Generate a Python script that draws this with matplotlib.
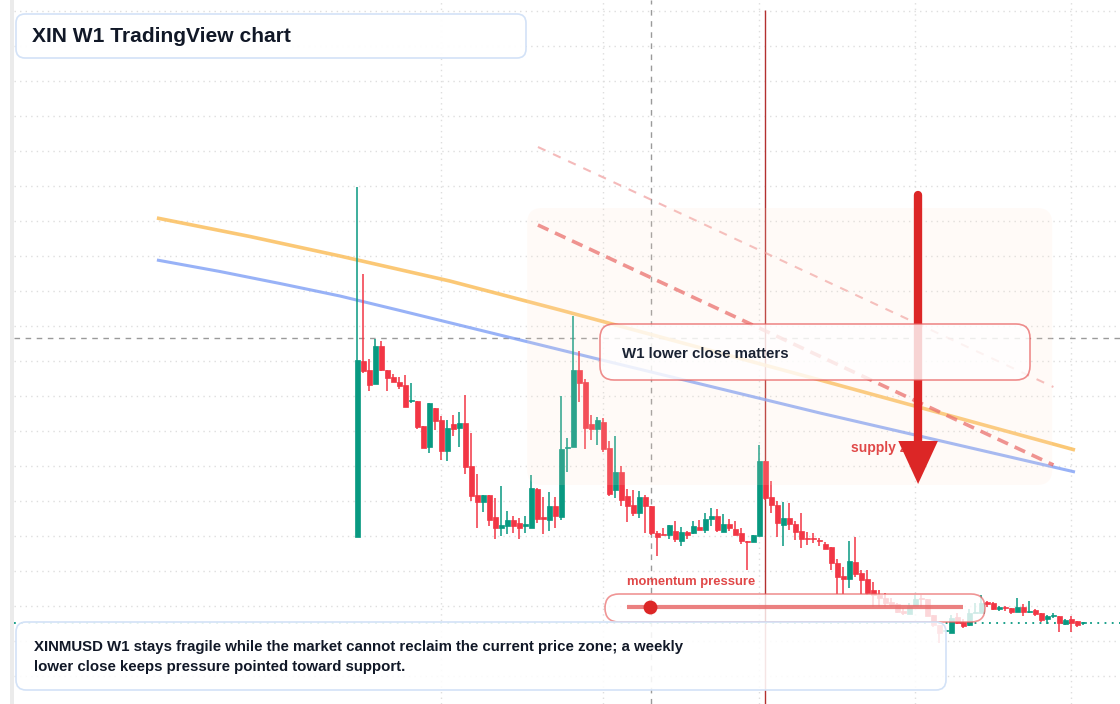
import matplotlib
matplotlib.use("Agg")
import matplotlib.pyplot as plt
from matplotlib.patches import FancyBboxPatch, Rectangle
from matplotlib.colors import to_rgba

plt.rcParams['font.family'] = ['Liberation Sans', 'DejaVu Sans']

# weekly candles, index 0..121
opens = [16.7, 34.3, 33.4, 32.0, 35.8, 33.4, 32.7, 32.2, 31.9, 30.3,
         30.3, 27.8, 25.7, 29.6, 28.4, 25.3, 28.0, 27.6, 28.1, 23.8,
         20.9, 20.2, 20.9, 18.7, 17.6, 17.8, 18.4, 18.1, 17.85, 17.6,
         21.5, 18.65, 18.4, 19.8, 18.7, 25.6, 25.7, 33.4, 32.2, 28.0,
         27.5, 28.2, 25.6, 21.4, 23.2, 20.8, 19.9, 19.1, 20.7, 19.8,
         17.1, 17.0, 16.9, 17.3, 16.3, 17.2, 17.1, 17.7, 17.4, 18.5,
         18.8, 17.2, 18.0, 17.5, 17.1, 16.3, 16.2, 16.8, 24.3, 20.7,
         19.9, 17.9, 18.6, 18.0, 17.3, 16.6, 16.55, 16.4, 16.0, 15.7,
         14.1, 12.8, 12.5, 14.2, 13.1, 12.5, 11.4, 10.9, 10.6, 10.2,
         10.0, 9.3, 9.0, 9.8, 10.6, 10.5, 8.9, 7.9, 7.3, 7.1,
         8.7, 8.2, 7.9, 9.1, 9.1, 10.1, 10.1, 9.55, 9.65, 9.6,
         9.2, 9.7, 9.2, 9.4, 9.1, 8.5, 8.8, 8.8, 8.0, 8.5,
         8.3, 8.1]
highs = [51.7, 43.0, 34.5, 36.5, 36.3, 33.4, 33.0, 32.7, 32.9, 32.1,
         30.3, 27.8, 30.1, 29.6, 28.8, 28.4, 28.9, 29.2, 30.9, 27.1,
         23.0, 20.9, 20.9, 20.6, 21.8, 19.3, 18.8, 18.6, 18.8, 22.9,
         21.6, 20.7, 21.2, 20.7, 30.8, 26.6, 38.8, 35.3, 32.5, 28.9,
         28.7, 28.6, 26.3, 26.8, 23.8, 21.5, 21.4, 21.3, 20.9, 19.8,
         17.3, 17.6, 17.9, 18.3, 17.7, 17.3, 18.3, 18.4, 19.1, 19.6,
         19.5, 19.0, 18.5, 18.3, 17.6, 16.3, 16.9, 25.9, 24.3, 22.3,
         20.3, 20.2, 20.1, 18.3, 19.1, 17.2, 17.1, 16.6, 16.2, 15.7,
         14.5, 13.7, 16.3, 16.7, 13.4, 13.4, 12.2, 11.4, 11.1, 10.6,
         10.1, 9.6, 10.1, 10.9, 10.9, 10.5, 8.9, 7.9, 7.35, 8.9,
         9.1, 8.5, 9.5, 10.1, 10.9, 10.3, 10.2, 9.8, 9.8, 9.6,
         10.6, 10.0, 10.3, 9.5, 9.1, 8.9, 9.1, 8.8, 8.5, 8.8,
         8.3, 8.2]
lows = [16.7, 33.1, 31.3, 32.0, 33.3, 31.3, 32.2, 31.5, 29.7, 30.1,
        27.5, 25.6, 25.1, 27.4, 24.4, 24.3, 26.8, 25.7, 23.0, 20.3,
        17.6, 19.2, 17.8, 16.5, 16.8, 17.0, 17.1, 16.5, 17.1, 17.6,
        18.1, 17.0, 17.3, 17.6, 18.4, 23.2, 25.7, 30.2, 25.5, 26.4,
        25.9, 25.2, 20.8, 20.6, 19.8, 18.2, 18.8, 18.6, 17.1, 16.9,
        14.8, 16.9, 16.5, 16.2, 15.8, 16.5, 17.0, 17.4, 17.1, 17.8,
        17.2, 17.2, 17.3, 16.9, 16.0, 13.4, 16.2, 16.8, 20.4, 19.1,
        16.7, 15.8, 17.4, 16.4, 15.6, 15.9, 16.1, 15.8, 15.5, 13.4,
        11.0, 11.0, 11.6, 12.7, 11.0, 10.9, 9.7, 9.7, 9.7, 9.7,
        9.1, 8.9, 9.0, 9.8, 9.7, 8.8, 7.7, 6.1, 7.3, 7.1,
        8.0, 7.6, 7.8, 9.1, 9.1, 9.7, 9.4, 9.3, 9.3, 9.0,
        9.2, 8.8, 9.1, 8.8, 8.2, 8.0, 8.6, 7.2, 7.9, 7.2,
        7.7, 7.9]
closes = [34.4, 33.3, 31.9, 35.8, 33.4, 32.6, 32.2, 31.8, 29.7, 30.4,
          27.7, 25.6, 30.1, 28.3, 25.3, 27.6, 27.5, 28.1, 23.7, 20.8,
          20.2, 20.9, 18.4, 17.6, 17.9, 18.4, 17.8, 17.6, 17.95, 21.6,
          18.5, 18.55, 19.8, 18.8, 25.5, 25.7, 33.4, 32.1, 27.6, 27.5,
          28.4, 25.5, 21.0, 23.2, 20.4, 19.8, 19.1, 20.7, 19.8, 17.1,
          16.7, 16.9, 17.9, 16.5, 17.2, 16.9, 17.8, 17.4, 18.5, 18.8,
          17.4, 18.0, 17.6, 16.9, 16.3, 16.2, 16.9, 24.3, 20.6, 19.9,
          18.1, 18.6, 18.0, 17.2, 16.5, 16.5, 16.5, 16.3, 15.5, 14.1,
          12.7, 12.5, 14.3, 13.0, 12.4, 11.1, 10.9, 10.6, 10.1, 9.9,
          9.2, 9.1, 9.8, 10.5, 10.5, 8.8, 7.9, 7.1, 7.35, 8.6,
          8.1, 7.8, 9.1, 9.2, 10.1, 10.05, 9.5, 9.6, 9.6, 9.2,
          9.7, 9.2, 9.3, 9.0, 8.4, 8.8, 8.85, 8.1, 8.4, 8.1,
          7.9, 8.12]

# moving averages (sampled)
ma_slow_idx = [-33.4, -17.9, -2.9, 15.4, 33.8, 77.1, 119.6]
ma_slow = [48.6, 46.75, 44.8, 42.3, 39.4, 32.4, 25.4]
ma_fast_idx = [-33.4, -22.9, -12.9, -2.9, 7.1, 40.4, 77.1, 119.6]
ma_fast = [44.4, 43.25, 42.05, 40.8, 39.35, 34.45, 29.1, 23.2]

# channel lines
chan_idx = [30.1, 116.0]
chan_low = [47.9, 23.9]
chan_high = [55.7, 31.7]

zone_idx = (28.3, 115.8)
zone_px = (21.9, 49.6)
arrow_idx = 93.45
arrow_top, arrow_tip = 50.9, 22.0
last_price = 8.12
cross_idx, cross_price = 49, 36.6
event_idx = 68
grid_idx = [14, 41, 67, 93, 119]
grid_prices = [2.8 + 3.5 * k for k in range(20)]

UP = '#089981'
DN = '#f23645'

fig = plt.figure(figsize=(11.2, 7.04), dpi=100)
ax = fig.add_axes([0, 0, 1, 1])
x0, x1 = -59.55, 127.1
ax.set_xlim(x0, x1)
ax.set_ylim(0, 70.4)
ax.axis('off')
xl = x0 + 14 / 6.0

ax.hlines(grid_prices, xl, x1, colors='#dedede', lw=1, linestyles=(0, (1, 3)), zorder=0)
ax.vlines(grid_idx, 0, 70.4, colors='#dedede', lw=1, linestyles=(0, (1, 3)), zorder=0)

ax.hlines(cross_price, xl, x1, colors='#9a9a9a', lw=1, linestyles=(0, (4, 4)), zorder=1)
ax.vlines(cross_idx, 0, 70.4, colors='#9a9a9a', lw=1, linestyles=(0, (4, 4)), zorder=1)
ax.vlines(event_idx, 0, 69.4, colors='#b3302f', lw=1, zorder=1)
ax.hlines(last_price, xl, x1, colors=UP, lw=1.3, linestyles=(0, (1, 3)), zorder=1)

ax.plot(ma_slow_idx, ma_slow, color='#fbbf5e', lw=2.6, alpha=0.85, zorder=2, solid_capstyle='butt')
ax.plot(ma_fast_idx, ma_fast, color='#7f9ff5', lw=2.2, alpha=0.8, zorder=2, solid_capstyle='butt')
ax.plot(chan_idx, chan_low, color='#e85d5d', lw=2.6, alpha=0.75, ls=(0, (3.2, 2.0)), zorder=2)
ax.plot(chan_idx, chan_high, color='#ee8c8c', lw=1.5, alpha=0.6, ls=(0, (4, 4)), zorder=2)

idx = list(range(len(opens)))
cols = [UP if c >= o else DN for o, c in zip(opens, closes)]
bottoms = [min(o, c) for o, c in zip(opens, closes)]
heights = [max(abs(c - o), 0.12) for o, c in zip(opens, closes)]
ax.vlines(idx, lows, highs, colors=cols, lw=1.1, zorder=3)
ax.bar(idx, heights, bottom=bottoms, width=0.8, color=cols, edgecolor=cols,
       linewidth=0.5, zorder=3)

zone = FancyBboxPatch((zone_idx[0], zone_px[0]), zone_idx[1] - zone_idx[0], zone_px[1] - zone_px[0],
                      boxstyle='round,pad=0,rounding_size=2.5', mutation_aspect=0.6,
                      fc='#ffe2cc', ec='none', alpha=0.15, zorder=5)
ax.add_patch(zone)

ax.text(82.3, 25.6, 'supply zone', color='#e04848', fontsize=10, fontweight='bold',
        va='center', ha='left', zorder=6)
head_w, head_l = 3.3, 4.3
ax.plot([arrow_idx, arrow_idx], [arrow_top, arrow_tip + head_l], color='#dc2626', lw=6,
        solid_capstyle='round', zorder=7)
ax.fill([arrow_idx - head_w, arrow_idx + head_w, arrow_idx],
        [arrow_tip + head_l, arrow_tip + head_l, arrow_tip], color='#dc2626', lw=0, zorder=7)

# overlay in pixel units for the panels
ov = fig.add_axes([0, 0, 1, 1])
ov.set_zorder(10)
ov.set_xlim(0, 1120)
ov.set_ylim(704, 0)
ov.axis('off')
ov.patch.set_alpha(0)

ov.add_patch(Rectangle((10, 0), 4, 704, color='#ebebeb', lw=0))


def panel(xa, ya, xb, yb, r, ec, fa, lw=1.2):
    p = FancyBboxPatch((xa, ya), xb - xa, yb - ya, boxstyle='round,pad=0,rounding_size=%g' % r,
                       fc=to_rgba('white', fa), ec=ec, lw=lw)
    ov.add_patch(p)


panel(16, 14, 526, 58, 9, '#d3e2f7', 0.97)
ov.text(32, 36.5, 'XIN W1 TradingView chart', fontsize=15.1, fontweight='bold', color='#111827',
        va='center', ha='left')

panel(600, 324, 1030, 380, 14, to_rgba('#e85d5d', 0.7), 0.8)
ov.text(622, 354, 'W1 lower close matters', fontsize=10.8, fontweight='bold', color='#1a2233',
        va='center', ha='left')

ov.text(627, 582.5, 'momentum pressure', fontsize=9.4, fontweight='bold', color='#e04848',
        va='center', ha='left')
panel(605, 594, 985, 622, 14, to_rgba('#e85d5d', 0.65), 0.8)
ov.plot([627, 963], [607, 607], color='#e86a6a', lw=3, alpha=0.85, solid_capstyle='butt')
ov.scatter([650], [607], s=100, color='#dc2626', zorder=3, linewidths=0)

panel(16, 622, 946, 690, 10, '#d3e2f7', 0.88)
ov.text(34, 647, 'XINMUSD W1 stays fragile while the market cannot reclaim the current price zone; a weekly',
        fontsize=10.85, fontweight='bold', color='#111827', va='center', ha='left')
ov.text(34, 667, 'lower close keeps pressure pointed toward support.',
        fontsize=10.85, fontweight='bold', color='#111827', va='center', ha='left')

fig.savefig('out.png', dpi=100)
